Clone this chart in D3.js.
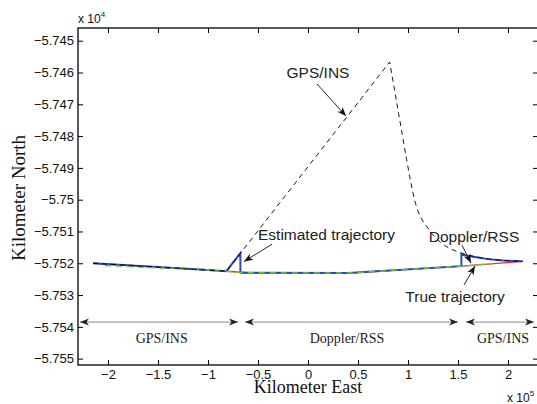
<!DOCTYPE html>
<html><head><meta charset="utf-8">
<script src="https://cdn.jsdelivr.net/npm/d3@7"></script>
<style>body{margin:0;background:#fff}svg{display:block}</style>
</head><body>
<svg id="c" width="537" height="404"></svg>
<script>
// ---- data (x in 1e5 km, y in 1e4 km) ----
const xTicks = [-2, -1.5, -1, -0.5, 0, 0.5, 1, 1.5, 2];
const xTickLabels = ["\u22122", "\u22121.5", "\u22121", "\u22120.5", "0", "0.5", "1", "1.5", "2"];
const yTicks = [-5.745, -5.746, -5.747, -5.748, -5.749, -5.75, -5.751, -5.752, -5.753, -5.754, -5.755];
const yTickLabels = ["\u22125.745", "\u22125.746", "\u22125.747", "\u22125.748", "\u22125.749", "\u22125.75", "\u22125.751", "\u22125.752", "\u22125.753", "\u22125.754", "\u22125.755"];

const trueX = [-2.15, -1.08, -0.816, -0.6, 0.4, 1.534, 2.147];
const trueY = [-5.752, -5.7522, -5.75225, -5.7523, -5.75231, -5.75209, -5.75194];

const estX = [-2.15, -1.08, -0.816, -0.676, -0.676, -0.6, 0.4, 1.534, 1.534, 1.6, 1.7, 1.8, 1.95, 2.147];
const estY = [-5.752, -5.7522, -5.75225, -5.75168, -5.7523, -5.7523, -5.75231, -5.75209, -5.75172, -5.75177, -5.75182, -5.75187, -5.75191, -5.75194];

const gpsX = [-2.15, -1.08, -0.816, 0.817, 0.90, 0.94, 0.984, 1.067, 1.217, 1.367, 1.517, 1.717, 1.917, 2.147];
const gpsY = [-5.752, -5.7522, -5.75225, -5.74567, -5.74718, -5.7479, -5.7487, -5.75002, -5.75097, -5.75144, -5.75166, -5.75182, -5.7519, -5.75194];
const gpsPeakIndex = 3;

const dopX = [-2.03, -1.08, -0.816, -0.6, 0.4, 1.534, 1.85];
const dopY = [-5.75207, -5.7522, -5.75225, -5.7523, -5.75231, -5.75209, -5.75201];

// annotations
const noteText = ["GPS/INS", "Estimated trajectory", "Doppler/RSS", "True trajectory"];
const noteAnchor = ["middle", "start", "middle", "middle"];
const noteTextX = [0.10, -0.50, 1.66, 1.47];
const noteTextY = [-5.746173, -5.751269, -5.751330, -5.753219];
const noteTailX = [0.09, -0.36, 1.54, 1.56];
const noteTailY = [-5.746362, -5.751400, -5.751430, -5.752684];
const noteTipX = [0.38, -0.64, 1.63, 1.67];
const noteTipY = [-5.747368, -5.751945, -5.751992, -5.752087];

const phaseNames = ["GPS/INS", "Doppler/RSS", "GPS/INS"];
const phaseStart = [-2.28, -0.63, 1.58];
const phaseEnd = [-0.70, 1.50, 2.26];
const phaseArrowY = -5.75385;
const phaseLabelX = [-1.463, 0.39, 1.95];
const phaseLabelY = -5.75450;

// ---- layout ----
const svg = d3.select("#c");
const L = 78, R = 538, T = 28, B = 365;
const x = d3.scaleLinear().domain([-2.3, 2.3]).range([L, R]);
const y = d3.scaleLinear().domain([-5.7552, -5.7446]).range([B, T]);
const sans = "'Liberation Sans', Arial, Helvetica, sans-serif";
const serif = "'Liberation Serif', 'Times New Roman', serif";

const zip = (xs, ys) => xs.map((v, i) => [v, ys[i]]);
const line = d3.line().x(d => x(d[0])).y(d => y(d[1]));
const smooth = d3.line().x(d => x(d[0])).y(d => y(d[1])).curve(d3.curveMonotoneX);

const plot = svg.append("g");
plot.append("path").attr("d", line(zip(trueX, trueY))).attr("fill", "none")
  .attr("stroke", "#e8302a").attr("stroke-width", 1.4);
plot.append("path").attr("d", line(zip(estX, estY))).attr("fill", "none")
  .attr("stroke", "#2a48b8").attr("stroke-width", 2).attr("stroke-linejoin", "miter");
plot.append("path").attr("d", line(zip(dopX, dopY))).attr("fill", "none")
  .attr("stroke", "#6cc24a").attr("stroke-width", 1.5).attr("stroke-dasharray", "6,5");
const gpsPts = zip(gpsX, gpsY);
const gpsD = line(gpsPts.slice(0, gpsPeakIndex + 1)) + smooth(gpsPts.slice(gpsPeakIndex)).replace(/^M[^A-Za-z]*/, "");
plot.append("path").attr("d", gpsD).attr("fill", "none")
  .attr("stroke", "#000").attr("stroke-width", 0.9).attr("stroke-dasharray", "5,4");

// ---- axes ----
const ax = svg.append("g");
const xAxB = d3.axisBottom(x).tickValues(xTicks).tickSizeInner(-5).tickSizeOuter(0)
  .tickFormat((d, i) => xTickLabels[i]).tickPadding(5);
const xAxT = d3.axisTop(x).tickValues(xTicks).tickSizeInner(-5).tickSizeOuter(0).tickFormat("");
const yAxL = d3.axisLeft(y).tickValues(yTicks).tickSizeInner(-5).tickSizeOuter(0)
  .tickFormat((d, i) => yTickLabels[i]).tickPadding(4);
const yAxR = d3.axisRight(y).tickValues(yTicks).tickSizeInner(-5).tickSizeOuter(0).tickFormat("");
[[xAxB, `translate(0,${B})`], [xAxT, `translate(0,${T})`], [yAxL, `translate(${L},0)`], [yAxR, `translate(${R},0)`]]
  .forEach(([a, tr]) => {
    const g = ax.append("g").attr("transform", tr).call(a);
    g.select(".domain").remove();
    g.selectAll("line").attr("stroke", "#000").attr("stroke-width", 1);
    g.selectAll("text").attr("font-family", sans).attr("font-size", 13).attr("fill", "#111");
  });
ax.append("rect").attr("x", L).attr("y", T).attr("width", R - L).attr("height", B - T)
  .attr("fill", "none").attr("stroke", "#000").attr("stroke-width", 1.3);

// exponents
const e4 = svg.append("text").attr("x", L).attr("y", 23).attr("font-family", sans).attr("font-size", 12).attr("fill", "#111");
e4.append("tspan").text("x 10");
e4.append("tspan").attr("dy", -6).attr("font-size", 8).text("4");
const e5 = svg.append("text").attr("x", 507).attr("y", 402).attr("font-family", sans).attr("font-size", 12).attr("fill", "#111");
e5.append("tspan").text("x 10");
e5.append("tspan").attr("dy", -6).attr("font-size", 8).text("5");

// axis titles
svg.append("text").attr("x", x(0)).attr("y", 393).attr("text-anchor", "middle")
  .attr("font-family", serif).attr("font-size", 18).attr("fill", "#111").text("Kilometer East");
svg.append("text").attr("transform", "translate(25,198) rotate(-90)").attr("text-anchor", "middle")
  .attr("font-family", serif).attr("font-size", 19).attr("fill", "#111").text("Kilometer North");

// arrowhead helper
function head(g, x1, y1, x2, y2, color) {
  const a = Math.atan2(y2 - y1, x2 - x1) * 180 / Math.PI;
  g.append("path").attr("d", "M0,0 L-9,-3.5 L-6.5,0 L-9,3.5 Z")
    .attr("transform", `translate(${x2},${y2}) rotate(${a})`).attr("fill", color);
}

// text arrows
const notes = svg.append("g");
noteText.forEach((t, i) => {
  const x1 = x(noteTailX[i]), y1 = y(noteTailY[i]), x2 = x(noteTipX[i]), y2 = y(noteTipY[i]);
  notes.append("line").attr("x1", x1).attr("y1", y1).attr("x2", x2).attr("y2", y2)
    .attr("stroke", "#111").attr("stroke-width", 0.9);
  head(notes, x1, y1, x2, y2, "#111");
  notes.append("text").attr("x", x(noteTextX[i])).attr("y", y(noteTextY[i]))
    .attr("text-anchor", noteAnchor[i]).attr("font-family", sans).attr("font-size", 15.5)
    .attr("fill", "#222").text(t);
});

// phase double arrows
const ph = svg.append("g");
phaseNames.forEach((t, i) => {
  const x1 = x(phaseStart[i]), x2 = x(phaseEnd[i]), yy = y(phaseArrowY);
  ph.append("line").attr("x1", x1).attr("y1", yy).attr("x2", x2).attr("y2", yy)
    .attr("stroke", "#8a8a8a").attr("stroke-width", 1);
  head(ph, x1, yy, x2, yy, "#222");
  head(ph, x2, yy, x1, yy, "#222");
  ph.append("text").attr("x", x(phaseLabelX[i])).attr("y", y(phaseLabelY)).attr("text-anchor", "middle")
    .attr("font-family", serif).attr("font-size", 14).attr("fill", "#222").text(t);
});
</script>
</body></html>
